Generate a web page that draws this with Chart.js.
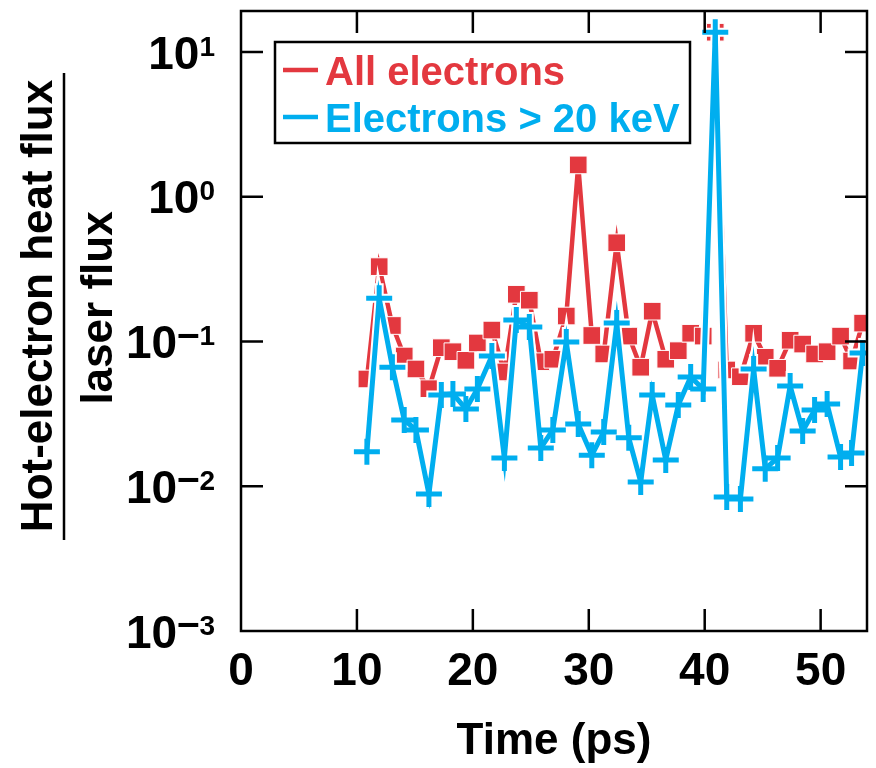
<!DOCTYPE html>
<html>
<head>
<meta charset="utf-8">
<title>Hot-electron heat flux</title>
<script src="https://cdn.jsdelivr.net/npm/chart.js@4.4.1/dist/chart.umd.min.js"></script>
<style>
  html, body { margin: 0; padding: 0; background: #fff; }
  canvas { display: block; }
</style>
</head>
<body>
<canvas id="flux-chart" width="876" height="768"></canvas>
<script>
// Values (time in ps, flux ratio on a log axis)
const times = [10.86, 11.92, 13.06, 14.08, 15.09, 16.21, 17.28, 18.28, 19.40, 20.39,
  21.64, 22.72, 23.75, 24.87, 25.86, 26.90, 28.06, 29.09, 30.26, 31.29,
  32.41, 33.45, 34.48, 35.47, 36.64, 37.72, 38.79, 39.87, 40.91, 41.90,
  43.08, 44.22, 45.22, 46.29, 47.37, 48.45, 49.48, 50.56, 51.72, 52.67, 53.62];

const allElectrons = [0.0551, 0.329, 0.129, 0.0794, 0.0646, 0.0472, 0.0906, 0.085, 0.0741, 0.0977,
  0.120, 0.0616, 0.212, 0.193, 0.0725, 0.0754, 0.150, 1.66, 0.110, 0.082,
  0.481, 0.109, 0.0664, 0.162, 0.0754, 0.0864, 0.114, 0.109, 13.7, 0.0636,
  0.0571, 0.114, 0.0778, 0.0653, 0.102, 0.096, 0.082, 0.085, 0.109, 0.0733, 0.134];

const hotElectrons = [0.0173, 0.199, 0.0664, 0.0287, 0.0245, 0.00885, 0.0427, 0.0434, 0.0342, 0.047,
  0.0794, 0.0157, 0.141, 0.126, 0.0184, 0.0245, 0.0992, 0.0269, 0.0164, 0.0237,
  0.134, 0.0216, 0.0107, 0.0427, 0.0152, 0.0364, 0.0569, 0.047, 13.7, 0.00843,
  0.00817, 0.0646, 0.0132, 0.0157, 0.0493, 0.0241, 0.0336, 0.037, 0.0159, 0.017, 0.0833];

const seriesNames = ['All electrons', 'Electrons > 20 keV'];
const xTickValues = [0, 10, 20, 30, 40, 50];
const yTickValues = [0.001, 0.01, 0.1, 1, 10];
const yExponents = [-3, -2, -1, 0, 1];

const FONT = '"Liberation Sans", Arial, Helvetica, sans-serif';
const RED = '#E3383F';
const BLUE = '#00AEEF';

const toPoints = vals => times.map((t, i) => ({ x: t, y: vals[i] }));

// frame, inward ticks, 10^n labels, fraction title and boxed legend
const decor = {
  id: 'decor',
  afterDraw(chart) {
    const { ctx, chartArea: a, scales: { x, y } } = chart;
    ctx.save();
    ctx.strokeStyle = '#000';
    ctx.lineWidth = 2.5;
    ctx.strokeRect(a.left, a.top, a.right - a.left, a.bottom - a.top);

    ctx.beginPath();
    xTickValues.forEach(v => {
      const px = x.getPixelForValue(v);
      if (px <= a.left + 1 || px >= a.right - 1) return;
      ctx.moveTo(px, a.bottom); ctx.lineTo(px, a.bottom - 22);
      ctx.moveTo(px, a.top); ctx.lineTo(px, a.top + 22);
    });
    yTickValues.forEach(v => {
      const py = y.getPixelForValue(v);
      if (py >= a.bottom - 1 || py <= a.top + 1) return;
      ctx.moveTo(a.left, py); ctx.lineTo(a.left + 22, py);
      ctx.moveTo(a.right, py); ctx.lineTo(a.right - 22, py);
    });
    ctx.stroke();

    // y tick labels: "10" with a raised exponent, right aligned
    ctx.fillStyle = '#000';
    ctx.textBaseline = 'alphabetic';
    ctx.textAlign = 'left';
    yTickValues.forEach((v, i) => {
      const py = y.getPixelForValue(v);
      const right = 215;
      const digits = String(Math.abs(yExponents[i]));
      ctx.font = `bold 28px ${FONT}`;
      const dw = ctx.measureText(digits).width;
      ctx.fillText(digits, right - dw, py + 3.5);
      let left = right - dw;
      if (yExponents[i] < 0) {
        ctx.font = `bold 40px ${FONT}`;
        const mw = ctx.measureText('\u2013').width;
        left -= mw;
        ctx.fillText('\u2013', left, py + 5);
      }
      ctx.font = `bold 46px ${FONT}`;
      ctx.textAlign = 'right';
      ctx.fillText('10', left, py + 16.5);
      ctx.textAlign = 'left';
    });

    // y title as a fraction
    ctx.font = `bold 44px ${FONT}`;
    ctx.textAlign = 'center';
    ctx.textBaseline = 'middle';
    ctx.save();
    ctx.translate(40, 306);
    ctx.rotate(-Math.PI / 2);
    ctx.fillText('Hot-electron heat flux', 0, 0);
    ctx.restore();
    ctx.save();
    ctx.translate(100, 308);
    ctx.rotate(-Math.PI / 2);
    ctx.fillText('laser flux', 0, 0);
    ctx.restore();
    ctx.beginPath();
    ctx.moveTo(64, 73); ctx.lineTo(64, 540);
    ctx.stroke();

    // legend box
    ctx.fillStyle = '#fff';
    ctx.fillRect(275, 42, 415, 101);
    ctx.strokeRect(275, 42, 415, 101);
    const rows = [{ name: seriesNames[0], color: RED, y: 70 }, { name: seriesNames[1], color: BLUE, y: 117 }];
    ctx.font = `bold 40px ${FONT}`;
    ctx.textAlign = 'left';
    ctx.textBaseline = 'alphabetic';
    rows.forEach(r => {
      ctx.strokeStyle = r.color;
      ctx.lineWidth = 4.5;
      ctx.beginPath();
      ctx.moveTo(283, r.y); ctx.lineTo(318, r.y);
      ctx.stroke();
      ctx.fillStyle = r.color;
      ctx.fillText(r.name, 325, r.y + 14.5);
    });
    ctx.restore();
  }
};

new Chart(document.getElementById('flux-chart'), {
  type: 'line',
  data: {
    datasets: [
      {
        label: seriesNames[1],
        data: toPoints(hotElectrons),
        borderColor: BLUE,
        borderWidth: 5,
        pointStyle: 'cross',
        pointRadius: 13,
        pointBorderWidth: 5,
        pointBorderColor: BLUE,
        pointBackgroundColor: BLUE,
      },
      {
        label: 'halo',
        data: toPoints(hotElectrons),
        borderColor: '#fff',
        borderWidth: 9,
        pointStyle: 'cross',
        pointRadius: 15,
        pointBorderWidth: 9,
        pointBorderColor: '#fff',
        pointBackgroundColor: '#fff',
      },
      {
        label: seriesNames[0],
        data: toPoints(allElectrons),
        borderColor: RED,
        borderWidth: 4.5,
        pointStyle: 'rect',
        pointRadius: 12.5,
        pointBorderWidth: 1,
        pointBorderColor: '#fff',
        pointBackgroundColor: RED,
      },
    ],
  },
  options: {
    responsive: false,
    animation: false,
    devicePixelRatio: 1,
    layout: { autoPadding: false, padding: { top: 11, right: 9, left: 0, bottom: 0 } },
    plugins: { legend: { display: false }, tooltip: { enabled: false } },
    elements: { line: { tension: 0 } },
    scales: {
      x: {
        type: 'linear',
        min: 0,
        max: 54,
        afterBuildTicks: s => { s.ticks = xTickValues.map(v => ({ value: v })); },
        afterFit: s => { s.height = 137; },
        grid: { display: false, drawTicks: false },
        border: { display: false },
        ticks: { color: '#000', font: { family: FONT, size: 46, weight: 'bold' }, padding: 14, maxRotation: 0 },
        title: { display: true, text: 'Time (ps)', color: '#000', font: { family: FONT, size: 44, weight: 'bold' }, padding: 0 },
      },
      y: {
        type: 'logarithmic',
        min: 0.001,
        max: 19.2,
        afterBuildTicks: s => { s.ticks = yTickValues.map(v => ({ value: v })); },
        afterFit: s => { s.width = 241; },
        grid: { display: false, drawTicks: false },
        border: { display: false },
        ticks: { display: false },
      },
    },
  },
  plugins: [decor],
});
</script>
</body>
</html>
